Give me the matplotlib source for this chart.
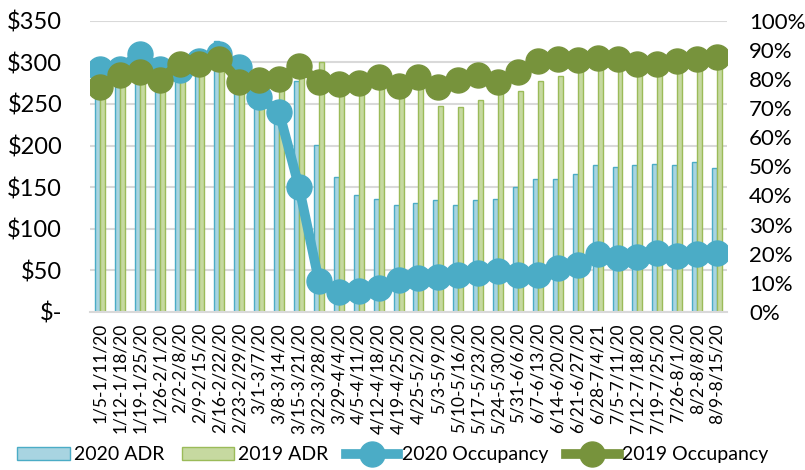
import matplotlib
matplotlib.use('Agg')
import matplotlib.pyplot as plt
import numpy as np

plt.rcParams['font.family'] = ['Lato', 'DejaVu Sans']

weeks = ["1/5-1/11/20", "1/12-1/18/20", "1/19-1/25/20", "1/26-2/1/20", "2/2-2/8/20",
         "2/9-2/15/20", "2/16-2/22/20", "2/23-2/29/20", "3/1-3/7/20", "3/8-3/14/20",
         "3/15-3/21/20", "3/22-3/28/20", "3/29-4/4/20", "4/5-4/11/20", "4/12-4/18/20",
         "4/19-4/25/20", "4/25-5/2/20", "5/3-5/9/20", "5/10-5/16/20", "5/17-5/23/20",
         "5/24-5/30/20", "5/31-6/6/20", "6/7-6/13/20", "6/14-6/20/20", "6/21-6/27/20",
         "6/28-7/4/21", "7/5-7/11/20", "7/12-7/18/20", "7/19-7/25/20", "7/26-8/1/20",
         "8/2-8/8/20", "8/9-8/15/20"]

adr_2020 = [290, 290, 300, 285, 290, 300, 325, 290, 262, 250, 277, 201, 162, 140, 136, 128,
            131, 135, 129, 135, 136, 150, 160, 160, 166, 177, 174, 177, 178, 177, 180, 173]
adr_2019 = [275, 285, 290, 280, 295, 300, 305, 280, 280, 285, 295, 300, 280, 275, 285, 272,
            280, 248, 246, 255, 270, 266, 277, 284, 298, 305, 303, 300, 298, 300, 305, 308]

occ_2020 = [83.5, 83.5, 88.6, 83.5, 82.9, 86.3, 88.6, 84.0, 73.7, 68.6, 42.9, 10.6, 7.0, 7.2,
            8.4, 11.0, 11.5, 11.9, 12.7, 13.5, 14.1, 12.7, 12.7, 15.2, 16.3, 19.8, 18.6, 18.9,
            20.4, 19.3, 19.8, 20.1]
occ_2019 = [77.4, 81.5, 82.3, 79.7, 85.2, 85.2, 86.9, 79.1, 79.5, 80.0, 84.6, 78.9, 78.1, 78.5,
            80.8, 77.7, 80.6, 77.4, 79.7, 81.5, 78.9, 82.3, 86.3, 86.9, 86.5, 87.2, 86.9, 85.2,
            85.2, 86.0, 86.9, 87.4]

BLUE = '#4BACC6'
BLUE_FILL = '#A8D4E1'
GREEN = '#77933C'
GREEN_EDGE = '#9BBB59'
GREEN_FILL = '#C6D9A0'
GRID = '#D9D9D9'

fig = plt.figure(figsize=(8.05, 4.7), dpi=100)
ax = fig.add_axes([0.1118, 0.3362, 0.7913, 0.6198])

x = np.arange(len(weeks))
w = 0.25
ax.bar(x - w / 2, adr_2020, w, color=BLUE_FILL, edgecolor=BLUE, linewidth=1, label='2020 ADR', zorder=2)
ax.bar(x + w / 2, adr_2019, w, color=GREEN_FILL, edgecolor=GREEN_EDGE, linewidth=1, label='2019 ADR', zorder=2)

ax.set_xlim(-0.5, len(weeks) - 0.5)
ax.set_ylim(0, 350)
ax.set_yticks(range(0, 351, 50))
ax.set_yticklabels(['$-'] + ['$%d' % v for v in range(50, 351, 50)], fontsize=17)
ax.yaxis.grid(True, color=GRID, linewidth=1.5, zorder=0)
ax.set_axisbelow(True)
ax.set_xticks(x)
ax.set_xticklabels(weeks, rotation=90, fontsize=12.5)
ax.tick_params(axis='both', length=0)
ax.tick_params(axis='y', pad=20)
ax.tick_params(axis='x', pad=8)
for s in ['top', 'left', 'right']:
    ax.spines[s].set_visible(False)
ax.spines['bottom'].set_color(GRID)
ax.spines['bottom'].set_linewidth(1.5)

ax2 = ax.twinx()
ax2.plot(x, occ_2020, color=BLUE, linewidth=7, marker='o', markersize=18, label='2020 Occupancy', zorder=3)
ax2.plot(x, occ_2019, color=GREEN, linewidth=7, marker='o', markersize=18, label='2019 Occupancy', zorder=4)
ax2.set_ylim(0, 100)
ax2.set_yticks(range(0, 101, 10))
ax2.set_yticklabels(['%d%%' % v for v in range(0, 101, 10)], fontsize=16)
ax2.tick_params(axis='y', length=0, pad=16)
for s in ['top', 'left', 'right', 'bottom']:
    ax2.spines[s].set_visible(False)

h1, l1 = ax.get_legend_handles_labels()
h2, l2 = ax2.get_legend_handles_labels()
fig.legend(h1 + h2, l1 + l2, loc='center left', bbox_to_anchor=(0.012, 0.032), ncol=4,
           frameon=False, fontsize=14, handlelength=2.7, handletextpad=0.2,
           columnspacing=0.9, borderaxespad=0)

plt.savefig('out.png', dpi=100)
